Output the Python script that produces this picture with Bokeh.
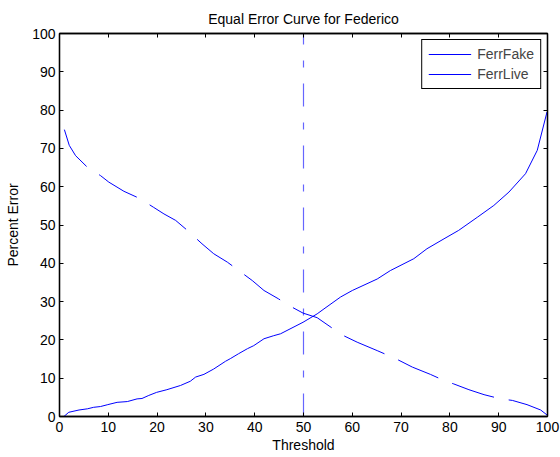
from bokeh.plotting import figure
from bokeh.models import LinearAxis, Legend, LegendItem, Range1d, FixedTicker
from bokeh.embed import file_html
from bokeh.resources import INLINE

title_text = "Equal Error Curve for Federico"
x_label = "Threshold"
y_label = "Percent Error"
x_ticks = [0, 10, 20, 30, 40, 50, 60, 70, 80, 90, 100]
y_ticks = [0, 10, 20, 30, 40, 50, 60, 70, 80, 90, 100]

fake_x = [1, 2, 3.3, 5.7, 8.4, 10.1, 13.2, 16.3, 19.3, 21.4, 23.8, 26.2, 29.2, 31.6,
          34.4, 39.5, 41.9, 44.9, 46.7, 49.9, 52.8, 57.9, 61, 65.1, 68.9, 72.3, 76,
          78.8, 80.8, 83.9, 87, 90.4, 92.8, 95.8, 98.6, 100]
fake_y = [74.9, 70.8, 68.1, 65.1, 62.9, 61.2, 58.8, 57.0, 54.6, 52.9, 51.2, 48.6, 45.1,
          42.5, 40.3, 35.5, 32.9, 30.7, 29.2, 27.0, 25.8, 21.3, 19.4, 17.2, 15.1, 12.9,
          11.0, 9.4, 8.5, 7.0, 5.7, 4.6, 4.2, 3.1, 1.7, 0.3]

live_x = [0.9, 1.9, 4, 5.7, 7, 8.4, 9.9, 11.8, 13.9, 15.9, 16.9, 18.3, 19.9, 22, 24.8,
          26.8, 27.9, 29.6, 31.6, 34, 35, 36.7, 38.5, 39.8, 41.9, 43.9, 45.3, 49.9,
          52.8, 54.2, 57.6, 60, 65.1, 67.8, 72.6, 75.3, 78.8, 81.8, 85.6, 89, 92.1,
          95.5, 97.9, 99.9]
live_y = [0, 1.1, 1.7, 2.0, 2.4, 2.6, 3.1, 3.7, 3.9, 4.6, 4.7, 5.5, 6.3, 7.0, 8.1, 9.2,
          10.3, 11.0, 12.4, 14.4, 15.1, 16.4, 17.7, 18.5, 20.3, 21.1, 21.6, 24.6, 26.8,
          28.1, 31.2, 32.9, 35.9, 38.1, 41.2, 43.8, 46.4, 48.6, 52.0, 55.1, 58.6, 63.4,
          69.5, 79.5]

eer_x = [50, 50]
eer_y = [0, 100]

FONT = "Liberation Sans"
FS = "14px"

p = figure(width=560, height=457, output_backend="svg", toolbar_location=None,
           x_range=Range1d(0, 100), y_range=Range1d(0, 100),
           min_border_left=59, min_border_right=13, min_border_top=33, min_border_bottom=41)
p.title.text = title_text
p.title.align = "center"
p.title.text_font = FONT
p.title.text_font_size = FS
p.title.text_font_style = "normal"
p.title.text_color = "black"
p.title.standoff = 13

p.xgrid.visible = False
p.ygrid.visible = False
p.outline_line_color = "black"
p.outline_line_width = 1.3

def style_axis(ax, show_labels=True):
    ax.ticker = FixedTicker(ticks=x_ticks)
    ax.major_tick_in = 4
    ax.major_tick_out = 0
    ax.minor_tick_line_color = None
    ax.axis_line_color = "black"
    ax.axis_line_width = 1.3
    ax.major_tick_line_color = "black"
    ax.major_label_text_font = FONT
    ax.major_label_text_font_size = FS
    ax.major_label_text_color = "black" if show_labels else None
    ax.axis_label_text_font = FONT
    ax.axis_label_text_font_size = FS
    ax.axis_label_text_font_style = "normal"
    ax.axis_label_text_color = "black"

xa = p.xaxis[0]
ya = p.yaxis[0]
style_axis(xa)
style_axis(ya)
ya.ticker = FixedTicker(ticks=y_ticks)
xa.axis_label = x_label
ya.axis_label = y_label
xa.major_label_standoff = 5
xa.axis_label_standoff = 2
ya.major_label_standoff = 4
ya.axis_label_standoff = 8

top = LinearAxis(major_label_text_font_size="0px")
style_axis(top, False)
top.major_label_text_font_size = "0px"
top.major_label_standoff = 0
p.add_layout(top, "above")
right = LinearAxis(major_label_text_font_size="0px")
style_axis(right, False)
right.ticker = FixedTicker(ticks=y_ticks)
right.major_label_text_font_size = "0px"
right.major_label_standoff = 0
p.add_layout(right, "right")

r_eer = p.line(eer_x, eer_y, line_color="#0000ff", line_alpha=0.6, line_width=1.2,
               line_dash="23 16 7 16")
r_fake = p.line(fake_x, fake_y, line_color="#0000ff", line_width=1, line_dash="44 15")
r_live = p.line(live_x, live_y, line_color="#0000ff", line_width=1)

legend = Legend(items=[LegendItem(label="FerrFake", renderers=[r_fake]),
                       LegendItem(label="FerrLive", renderers=[r_live])],
                location="top_right", margin=6, padding=6, spacing=4,
                label_height=14, glyph_height=14, glyph_width=43, label_standoff=6,
                label_text_font=FONT, label_text_font_size=FS,
                border_line_color="black", border_line_width=1.3, border_line_alpha=1,
                background_fill_color="white", background_fill_alpha=1)
p.add_layout(legend, "center")

open("out.html", "w").write(file_html(p, INLINE))
